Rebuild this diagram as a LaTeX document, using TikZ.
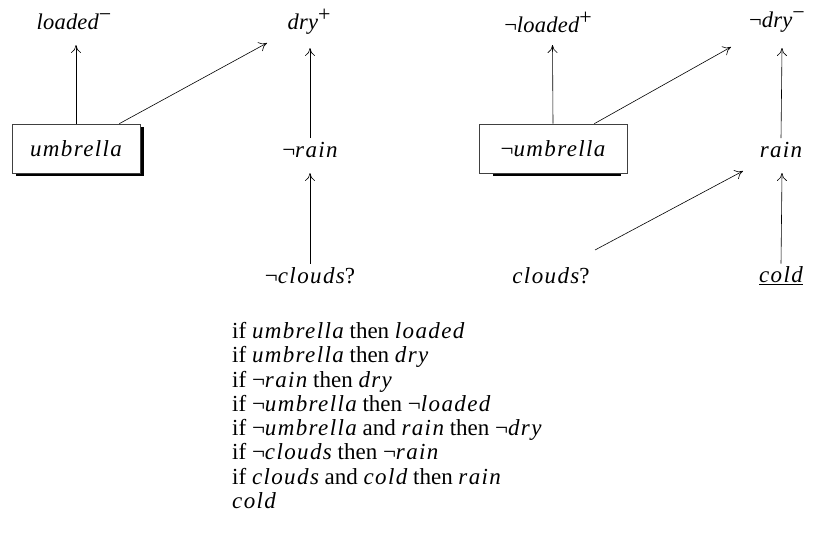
\documentclass[tikz,border=0pt]{standalone}
\usepackage{fontspec}
\setmainfont{Liberation Serif}
\newfontface\vi{Liberation Serif Italic}[LetterSpace=6]
\newfontface\vj{Liberation Serif Italic}[LetterSpace=1]
\usetikzlibrary{arrows.meta}
\newcommand{\V}[1]{{\vi #1}}
\newcommand{\W}[1]{{\vj #1}}
\newcommand{\SUP}[1]{\raisebox{0.36em}{\fontsize{22}{22}\selectfont #1}}
\tikzset{
  lbl/.style={inner sep=2pt, font=\fontsize{23}{26}\selectfont},
  toplbl/.style={inner sep=2pt, font=\fontsize{22.5}{26}\selectfont},
  boxed/.style={lbl, draw=black!75, line width=0.7pt, fill=white, minimum width=128pt, minimum height=49pt},
  shadowbox/.style={fill=black, minimum width=128pt, minimum height=49pt, inner sep=0pt},
  arr/.style={-{To[length=8pt,width=10pt]}, line width=0.6pt},
}
\begin{document}
\begin{tikzpicture}[x=1pt,y=-1pt]
\useasboundingbox (0,0) rectangle (816,549);
% ---------- left half ----------
\node[toplbl] (loadedm) at (74,22) {\W{loaded}\SUP{−}};
\node[toplbl] (dryp) at (309,22) {\W{dry}\SUP{+}};
\node[shadowbox] (ushadow) at (79.5,151.5) {};
\node[boxed] (umb) at (76,148.5) {\V{umbrella}};
\node[lbl] (nrain) at (310,150) {¬\V{rain}};
\node[lbl] (nclouds) at (310,276) {¬\V{clouds}?};
\coordinate (c1) at (76,45);
\coordinate (c2) at (267,43);
\coordinate (c3) at (310,48);
\coordinate (c4) at (310,173);
\draw[arr] (umb.north) -- (c1);
\draw[arr] (umb.north east) ++(-21,0) coordinate (u1) -- (c2);
\draw[arr] (nrain.north) ++(0,-2) coordinate (n1) -- (c3);
\draw[arr] (nclouds.north) ++(0,-2) coordinate (n2) -- (c4);
% ---------- right half ----------
\node[toplbl] (nloadedp) at (548,22) {¬\W{loaded}\SUP{+}};
\node[toplbl] (ndrym) at (777,22) {¬\W{dry}\SUP{−}};
\node[shadowbox] (nushadow) at (556.5,151.5) {};
\node[boxed, minimum width=148pt] (numb) at (553,148.5) {¬\V{umbrella}};
\node[lbl] (rain) at (781,150) {\V{rain}};
\node[lbl] (clouds) at (551,276) {\V{clouds}?};
\node[lbl] (cold) at (781,276) {\underline{\V{cold}}};
\coordinate (d1) at (552.5,45);
\coordinate (d2) at (731,47);
\coordinate (d3) at (782,48);
\coordinate (d4) at (743,171);
\coordinate (d5) at (782,173);
\coordinate (d6) at (595,250);
\draw[arr] (numb.north) -- (d1);
\draw[arr] (numb.north east) ++(-33,0) coordinate (v1) -- (d2);
\draw[arr] (rain.north) ++(0,-2) coordinate (r1) -- (d3);
\draw[arr] (d6) -- (d4);
\draw[arr] (cold.north) ++(0,-1) coordinate (k1) -- (d5);
% ---------- rules ----------
\node[anchor=north west, inner sep=0pt, align=left, font=\fontsize{23}{24.3}\selectfont] (rules) at (232,322) {%
if \V{umbrella} then \V{loaded}\\
if \V{umbrella} then \V{dry}\\
if ¬\V{rain} then \V{dry}\\
if ¬\V{umbrella} then ¬\V{loaded}\\
if ¬\V{umbrella} and \V{rain} then ¬\V{dry}\\
if ¬\V{clouds} then ¬\V{rain}\\
if \V{clouds} and \V{cold} then \V{rain}\\
\V{cold}};
\end{tikzpicture}
\end{document}
